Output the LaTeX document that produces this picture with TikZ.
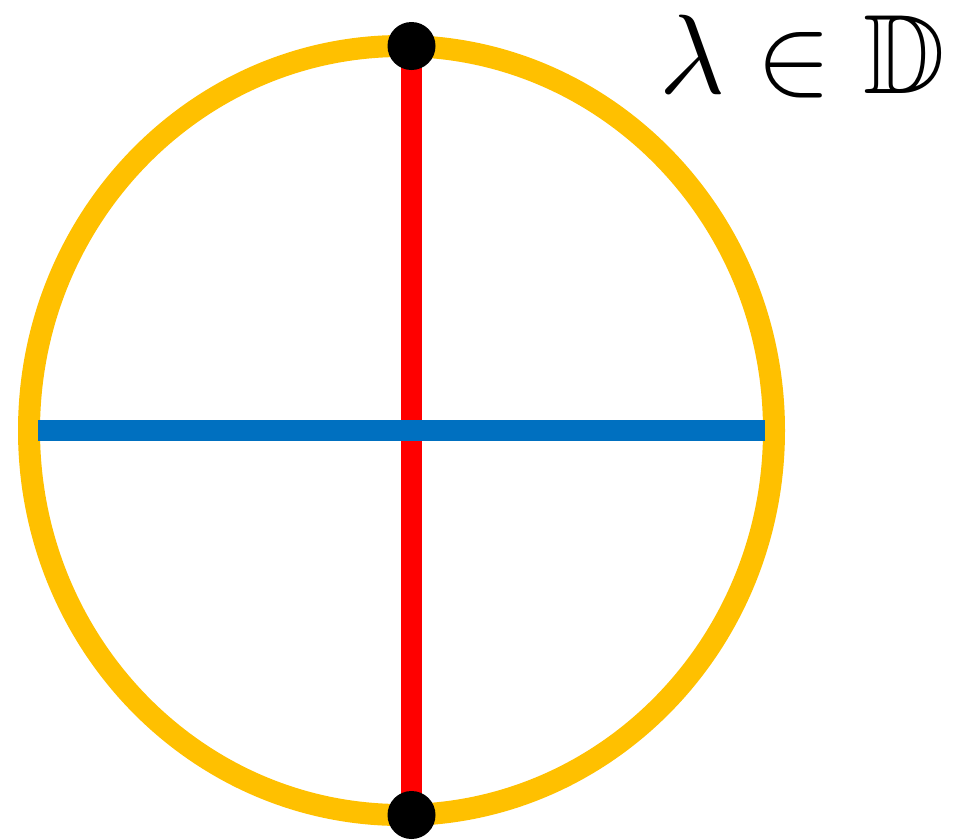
\documentclass[tikz,border=0pt]{standalone}
\usepackage{amssymb}
\usepackage{tikz}
\usetikzlibrary{shapes.geometric}
\definecolor{dkgold}{HTML}{FFC000}
\definecolor{dkred}{HTML}{FF0000}
\definecolor{dkblue}{HTML}{0070C0}
\tikzset{
  rim/.style={ellipse,draw=dkgold,line width=22pt,inner sep=0pt,outer sep=0pt,minimum width=745pt,minimum height=769pt},
  pole/.style={circle,fill=black,inner sep=0pt,minimum size=48pt},
  vbar/.style={draw=dkred,line width=20.5pt},
  hbar/.style={draw=dkblue,line width=21pt},
  lbl/.style={inner sep=0pt,anchor=base west,font=\fontsize{10}{12}\selectfont,scale=11.3,transform shape},
}
\begin{document}
\begin{tikzpicture}[x=1pt,y=-1pt]
  \useasboundingbox (0,0) rectangle (961,839);
  \node[rim] (disk) at (401.5,430.5) {};
  \coordinate (n) at (411.5,46);
  \coordinate (s) at (411.5,815);
  \coordinate (w) at (38,430.5);
  \coordinate (e) at (765,430.5);
  \draw[vbar] (n) -- (s);
  \draw[hbar] (w) -- (e);
  \node[pole] (np) at (n) {};
  \node[pole] (sp) at (s) {};
  \node[lbl] (lam) at (657,93) {$\lambda\in\mathbb{D}$};
\end{tikzpicture}
\end{document}
